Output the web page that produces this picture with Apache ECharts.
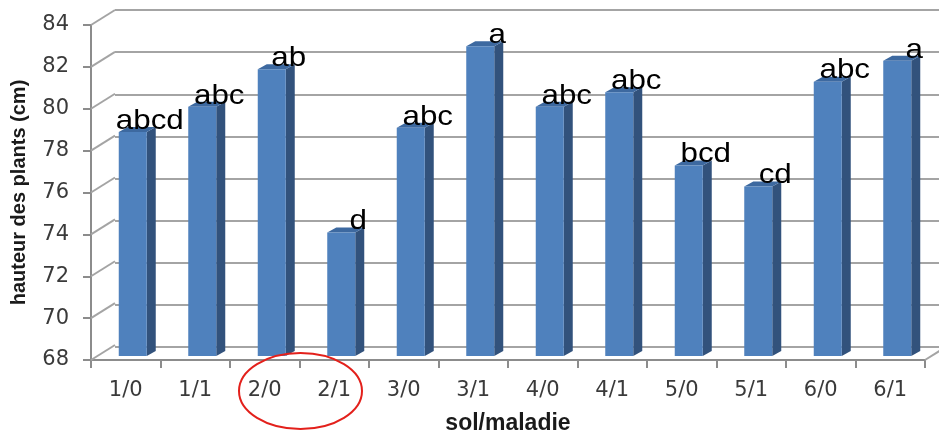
<!DOCTYPE html>
<html>
<head>
<meta charset="utf-8">
<script src="https://cdn.jsdelivr.net/npm/echarts@6/dist/echarts.min.js"></script>
<style>
  html, body { margin: 0; padding: 0; background: #ffffff; }
  #chart { width: 939px; height: 440px; }
</style>
</head>
<body>
<div id="chart"></div>
<script>
// soil / disease combinations
const categories = ['1/0', '1/1', '2/0', '2/1', '3/0', '3/1', '4/0', '4/1', '5/0', '5/1', '6/0', '6/1'];
// mean plant height (cm)
const heights = [78.7, 79.9, 81.7, 73.9, 78.9, 82.8, 79.9, 80.6, 77.1, 76.1, 81.1, 82.1];
// significance groups
const groups = ['abcd', 'abc', 'ab', 'd', 'abc', 'a', 'abc', 'abc', 'bcd', 'cd', 'abc', 'a'];
// value axis
const yMin = 68;
const yMax = 84;
const yStep = 2;
const yTicks = [68, 70, 72, 74, 76, 78, 80, 82, 84];

// pseudo-3D depth of the plot box and of each column
const DEPTH_X = 24, DEPTH_Y = -15;
const COL_SHIFT_X = 7, COL_SHIFT_Y = -4;
const COL_W = 28, COL_DX = 9, COL_DY = -5;

const AXIS_GREY = '#8c8c8c';
const GRID_GREY = '#a4a4a4';
const LABEL_GREY = '#3a3a3a';

const chart = echarts.init(document.getElementById('chart'), null, { renderer: 'canvas' });

const option = {
  animation: false,
  backgroundColor: '#ffffff',
  grid: [
    // front plane: axes, ticks, labels, columns
    { left: 91, top: 25, width: 834, height: 337, containLabel: false },
    // back wall: horizontal gridlines
    { left: 91 + DEPTH_X, top: 25 + DEPTH_Y, width: 834, height: 337, containLabel: false }
  ],
  xAxis: [
    {
      gridIndex: 0,
      type: 'category',
      data: categories,
      boundaryGap: true,
      axisLine: { show: true, lineStyle: { color: AXIS_GREY, width: 2 } },
      axisTick: { show: true, interval: 0, length: 8, lineStyle: { color: AXIS_GREY, width: 2 } },
      axisLabel: { interval: 0, margin: 20, color: LABEL_GREY, fontFamily: 'DejaVu Sans', fontSize: 21 },
      name: 'sol/maladie',
      nameLocation: 'middle',
      nameGap: 52,
      nameTextStyle: { color: '#1a1a1a', fontFamily: 'Liberation Sans', fontWeight: 'bold', fontSize: 23 },
      splitLine: { show: false }
    },
    {
      gridIndex: 1,
      type: 'category',
      data: categories,
      show: false
    }
  ],
  yAxis: [
    {
      gridIndex: 0,
      type: 'value',
      min: yMin,
      max: yMax,
      interval: yStep,
      axisLine: { show: true, lineStyle: { color: AXIS_GREY, width: 2 } },
      axisTick: { show: true, length: 8, lineStyle: { color: AXIS_GREY, width: 2 } },
      axisLabel: { margin: 22, color: LABEL_GREY, fontFamily: 'DejaVu Sans', fontSize: 21 },
      splitLine: { show: false },
      name: 'hauteur des plants (cm)',
      nameLocation: 'middle',
      nameGap: 62,
      nameRotate: 90,
      nameTextStyle: { color: '#1a1a1a', fontFamily: 'Liberation Sans', fontWeight: 'bold', fontSize: 20 }
    },
    {
      gridIndex: 1,
      type: 'value',
      min: yMin,
      max: yMax,
      interval: yStep,
      axisLine: { show: false },
      axisTick: { show: false },
      axisLabel: { show: false },
      splitLine: { show: true, lineStyle: { color: GRID_GREY, width: 2 } }
    }
  ],
  series: [
    {
      // side-wall gridlines joining front ticks to the back wall, plus floor edge
      type: 'custom',
      xAxisIndex: 0,
      yAxisIndex: 0,
      z: 1,
      silent: true,
      clip: false,
      data: yTicks.map(v => [0, v]),
      renderItem: function (params, api) {
        const cs = params.coordSys;
        const v = api.value(1);
        const y = api.coord([0, v])[1];
        const x0 = cs.x;
        const children = [{
          type: 'line',
          shape: { x1: x0, y1: y, x2: x0 + DEPTH_X, y2: y + DEPTH_Y },
          style: { stroke: GRID_GREY, lineWidth: 2 }
        }];
        if (v === yMin) {
          const x1 = cs.x + cs.width;
          children.push({
            type: 'line',
            shape: { x1: x1, y1: y, x2: x1 + DEPTH_X, y2: y + DEPTH_Y },
            style: { stroke: GRID_GREY, lineWidth: 2 }
          });
        }
        return { type: 'group', children: children };
      }
    },
    {
      // 3D-looking columns with their group letters
      type: 'custom',
      xAxisIndex: 0,
      yAxisIndex: 0,
      z: 3,
      clip: false,
      data: heights.map((h, i) => [i, h, groups[i]]),
      renderItem: function (params, api) {
        const i = api.value(0);
        const v = api.value(1);
        const idx = params.dataIndex;
        const top = api.coord([i, v]);
        const base = api.coord([i, yMin]);
        const cx = top[0] + COL_SHIFT_X;
        const xl = cx - COL_W / 2;
        const xr = cx + COL_W / 2;
        const yt = top[1] + COL_SHIFT_Y;
        const yb = base[1] + COL_SHIFT_Y;
        return {
          type: 'group',
          children: [
            {
              type: 'polygon',
              shape: { points: [[xr, yt], [xr + COL_DX, yt + COL_DY], [xr + COL_DX, yb + COL_DY], [xr, yb]] },
              style: { fill: '#32527c' }
            },
            {
              type: 'polygon',
              shape: { points: [[xl, yt], [xl + COL_DX, yt + COL_DY], [xr + COL_DX, yt + COL_DY], [xr, yt]] },
              style: { fill: '#3d69a0' }
            },
            {
              type: 'rect',
              shape: { x: xl, y: yt, width: COL_W, height: yb - yt },
              style: { fill: '#4f81bd' }
            },
            {
              type: 'text',
              x: cx + 17,
              y: yt + 3,
              scaleX: 1.12,
              z2: 10,
              style: {
                text: groups[idx],
                fill: '#000000',
                fontFamily: 'Liberation Sans',
                fontSize: 28,
                align: 'center',
                verticalAlign: 'bottom'
              }
            }
          ]
        };
      }
    }
  ],
  graphic: [
    {
      // hand-drawn highlight around soil 2
      type: 'ellipse',
      shape: { cx: 300.5, cy: 391, rx: 61.5, ry: 38 },
      style: { fill: 'none', stroke: '#e3201b', lineWidth: 2 },
      z: 20
    }
  ]
};

chart.setOption(option);
</script>
</body>
</html>
